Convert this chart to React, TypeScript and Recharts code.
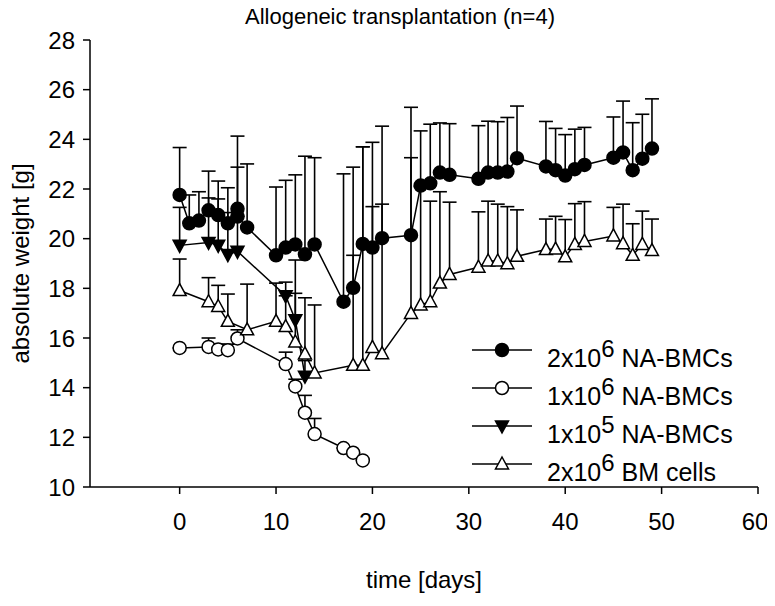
import React from 'react'
import { LineChart, Line, XAxis, YAxis, ErrorBar, Legend, Label } from 'recharts'

// 2x10^6 NA-BMCs (filled circles): day, mean weight, top of error bar
const daysHigh = [0, 1, 2, 3, 4, 5, 6, 6, 7, 10, 11, 12, 13, 14, 17, 18, 19, 20, 21, 24, 25, 26, 27, 28, 31, 32, 33, 34, 35, 38, 39, 40, 41, 42, 45, 46, 47, 48, 49]
const meanHigh = [21.76, 20.62, 20.73, 21.14, 20.95, 20.62, 21.2, 20.89, 20.45, 19.33, 19.64, 19.77, 19.37, 19.77, 17.46, 18.02, 19.79, 19.64, 20.02, 20.14, 22.14, 22.23, 22.66, 22.57, 22.41, 22.66, 22.66, 22.7, 23.24, 22.91, 22.76, 22.54, 22.8, 22.97, 23.26, 23.47, 22.76, 23.22, 23.63]
const topHigh = [23.67, 21.76, 21.89, 22.72, 22.32, 22.05, 24.13, 22.88, 23.01, 22.08, 22.35, 22.57, 23.32, 23.26, 22.61, 22.88, 23.7, 23.88, 24.53, 25.29, 24.34, 24.61, 24.66, 24.63, 24.55, 24.73, 24.71, 24.88, 25.34, 24.72, 24.44, 24.19, 24.41, 24.48, 24.9, 25.54, 24.67, 25.01, 25.63]

// 1x10^6 NA-BMCs (open circles)
const daysMid = [0, 3, 4, 5, 6, 11, 12, 13, 14, 17, 18, 19]
const meanMid = [15.6, 15.64, 15.54, 15.51, 15.98, 14.95, 14.05, 12.99, 12.13, 11.57, 11.38, 11.07]
const topMid = [15.6, 16.0, 15.75, 15.75, 16.33, 15.43, 14.34, 13.69, 12.76, 11.57, 11.38, 11.07]

// 1x10^5 NA-BMCs (filled triangles down)
const daysLow = [0, 3, 4, 5, 6, 11, 12, 13]
const meanLow = [19.73, 19.85, 19.73, 19.36, 19.49, 17.7, 16.73, 14.46]
const topLow = [21.26, 21.64, 21.6, 21.05, 20.9, 18.25, 19.14, 15.09]

// 2x10^6 BM cells (open triangles)
const daysBm = [0, 3, 4, 5, 7, 10, 11, 12, 13, 14, 18, 19, 20, 21, 24, 25, 26, 27, 28, 31, 32, 33, 34, 35, 38, 39, 40, 41, 42, 45, 46, 47, 48, 49]
const meanBm = [17.91, 17.46, 17.27, 16.67, 16.33, 16.67, 16.46, 15.84, 15.36, 14.59, 14.9, 14.9, 15.62, 15.37, 16.99, 17.33, 17.46, 18.21, 18.56, 18.85, 19.1, 19.1, 18.99, 19.29, 19.56, 19.58, 19.27, 19.77, 19.89, 20.11, 19.8, 19.33, 19.77, 19.52]
const topBm = [19.18, 18.43, 18.12, 17.77, 18.17, 18.21, 17.7, 17.8, 17.62, 17.33, 19.33, 23.7, 21.29, 21.39, 23.26, 22.1, 21.51, 21.89, 21.47, 21.08, 21.51, 21.39, 21.29, 21.16, 20.79, 20.9, 20.77, 21.41, 21.49, 21.26, 21.39, 20.6, 21.11, 20.79]

const xTicks = [0, 10, 20, 30, 40, 50, 60]
const yTicks = [10, 12, 14, 16, 18, 20, 22, 24, 26, 28]

const FONT = '"Liberation Sans", Arial, Helvetica, sans-serif'

const build = (days: number[], mean: number[], top: number[]) =>
  days.map((d, i) => ({ day: d, mean: mean[i], top: top[i], err: [0, +(top[i] - mean[i]).toFixed(2)] }))

const circleDot = (fill: string) => (p: any) => (
  <circle key={`c-${p.index}`} cx={p.cx} cy={p.cy} r={6.5} fill={fill} stroke="#000" strokeWidth={1.5} />
)

const triDot = (fill: string, down: boolean) => (p: any) => {
  const s = down ? -1 : 1
  const pts = `${p.cx},${p.cy - 7 * s} ${p.cx - 6.5},${p.cy + 5 * s} ${p.cx + 6.5},${p.cy + 5 * s}`
  return <polygon key={`t-${p.index}`} points={pts} fill={fill} stroke="#000" strokeWidth={1.5} />
}

// horizontal cap at the top of each error bar
const capDot = (p: any) => (
  <line key={`cap-${p.index}`} x1={p.cx - 7} x2={p.cx + 7} y1={p.cy} y2={p.cy} stroke="#000" strokeWidth={1.6} />
)

const series = [
  { key: 'high', data: build(daysHigh, meanHigh, topHigh), base: '2x10', exp: '6', rest: ' NA-BMCs', dot: circleDot('#000') },
  { key: 'mid', data: build(daysMid, meanMid, topMid), base: '1x10', exp: '6', rest: ' NA-BMCs', dot: circleDot('#fff') },
  { key: 'low', data: build(daysLow, meanLow, topLow), base: '1x10', exp: '5', rest: ' NA-BMCs', dot: triDot('#000', true) },
  { key: 'bm', data: build(daysBm, meanBm, topBm), base: '2x10', exp: '6', rest: ' BM cells', dot: triDot('#fff', false) },
]

const renderLegend = () => (
  <svg width={300} height={200} style={{ overflow: 'visible' }}>
    {series.map((s, i) => {
      const y = 26 + i * 38
      return (
        <g key={s.key}>
          <line x1={9} x2={69} y1={y} y2={y} stroke="#000" strokeWidth={1.5} />
          {s.dot({ cx: 39, cy: y, index: i })}
          <text x={84} y={y + 17} fontSize={25} fontFamily={FONT} fill="#000">
            {s.base}
            <tspan dy={-10} fontSize={24}>{s.exp}</tspan>
            <tspan dy={10}>{s.rest}</tspan>
          </text>
        </g>
      )
    })}
  </svg>
)

const tickStyle = { fontSize: 24, fill: '#000', fontFamily: FONT }

const App: React.FC = () => {
  return (
    <div style={{ position: 'relative', width: 759, height: 590, fontFamily: FONT }}>
      <LineChart width={759} height={590} margin={{ top: 32, right: 9, bottom: 0, left: 0 }}>
        <XAxis
          type="number"
          dataKey="day"
          domain={[-9.3, 60]}
          ticks={xTicks}
          allowDataOverflow
          height={111}
          tickSize={7}
          tickMargin={19}
          tick={tickStyle}
          axisLine={{ stroke: '#000', strokeWidth: 1.5 }}
          tickLine={{ stroke: '#000', strokeWidth: 1.5 }}
        >
          <Label
            content={({ viewBox }: any) => (
              <text x={viewBox.x + viewBox.width / 2} y={viewBox.y + 101} textAnchor="middle" fontSize={24} fontFamily={FONT} fill="#000">
                time [days]
              </text>
            )}
          />
        </XAxis>
        <YAxis
          type="number"
          domain={[10, 28]}
          ticks={yTicks}
          allowDataOverflow
          width={82}
          tickSize={7}
          tickMargin={8}
          tick={tickStyle}
          axisLine={{ stroke: '#000', strokeWidth: 1.5 }}
          tickLine={{ stroke: '#000', strokeWidth: 1.5 }}
        >
          <Label
            content={({ viewBox }: any) => {
              const cy = viewBox.y + viewBox.height / 2
              return (
                <text x={12} y={cy} transform={`rotate(-90, 12, ${cy})`} textAnchor="middle" dominantBaseline="central" fontSize={24} fontFamily={FONT} fill="#000">
                  absolute weight [g]
                </text>
              )
            }}
          />
        </YAxis>
        {series.map(s => (
          <Line
            key={`top-${s.key}`}
            data={s.data}
            dataKey="top"
            stroke="none"
            strokeWidth={0}
            dot={capDot}
            activeDot={false}
            legendType="none"
            isAnimationActive={false}
          />
        ))}
        {series.map(s => (
          <Line
            key={s.key}
            data={s.data}
            dataKey="mean"
            type="linear"
            stroke="#000"
            strokeWidth={1.5}
            dot={s.dot}
            activeDot={false}
            legendType="none"
            isAnimationActive={false}
          >
            <ErrorBar dataKey="err" width={0} stroke="#000" strokeWidth={1.6} direction="y" isAnimationActive={false} />
          </Line>
        ))}
        <Legend
          layout="vertical"
          align="center"
          verticalAlign="middle"
          content={renderLegend}
          wrapperStyle={{ left: 455, top: 316, width: 300, height: 170 }}
        />
      </LineChart>
      <svg width={759} height={40} style={{ position: 'absolute', left: 0, top: -8, overflow: 'visible', zIndex: 2 }}>
        <text x={392} y={24} textAnchor="middle" fontSize={22} fontFamily={FONT} fill="#000">
          Allogeneic transplantation (n=4)
        </text>
      </svg>
    </div>
  )
}

export default App
